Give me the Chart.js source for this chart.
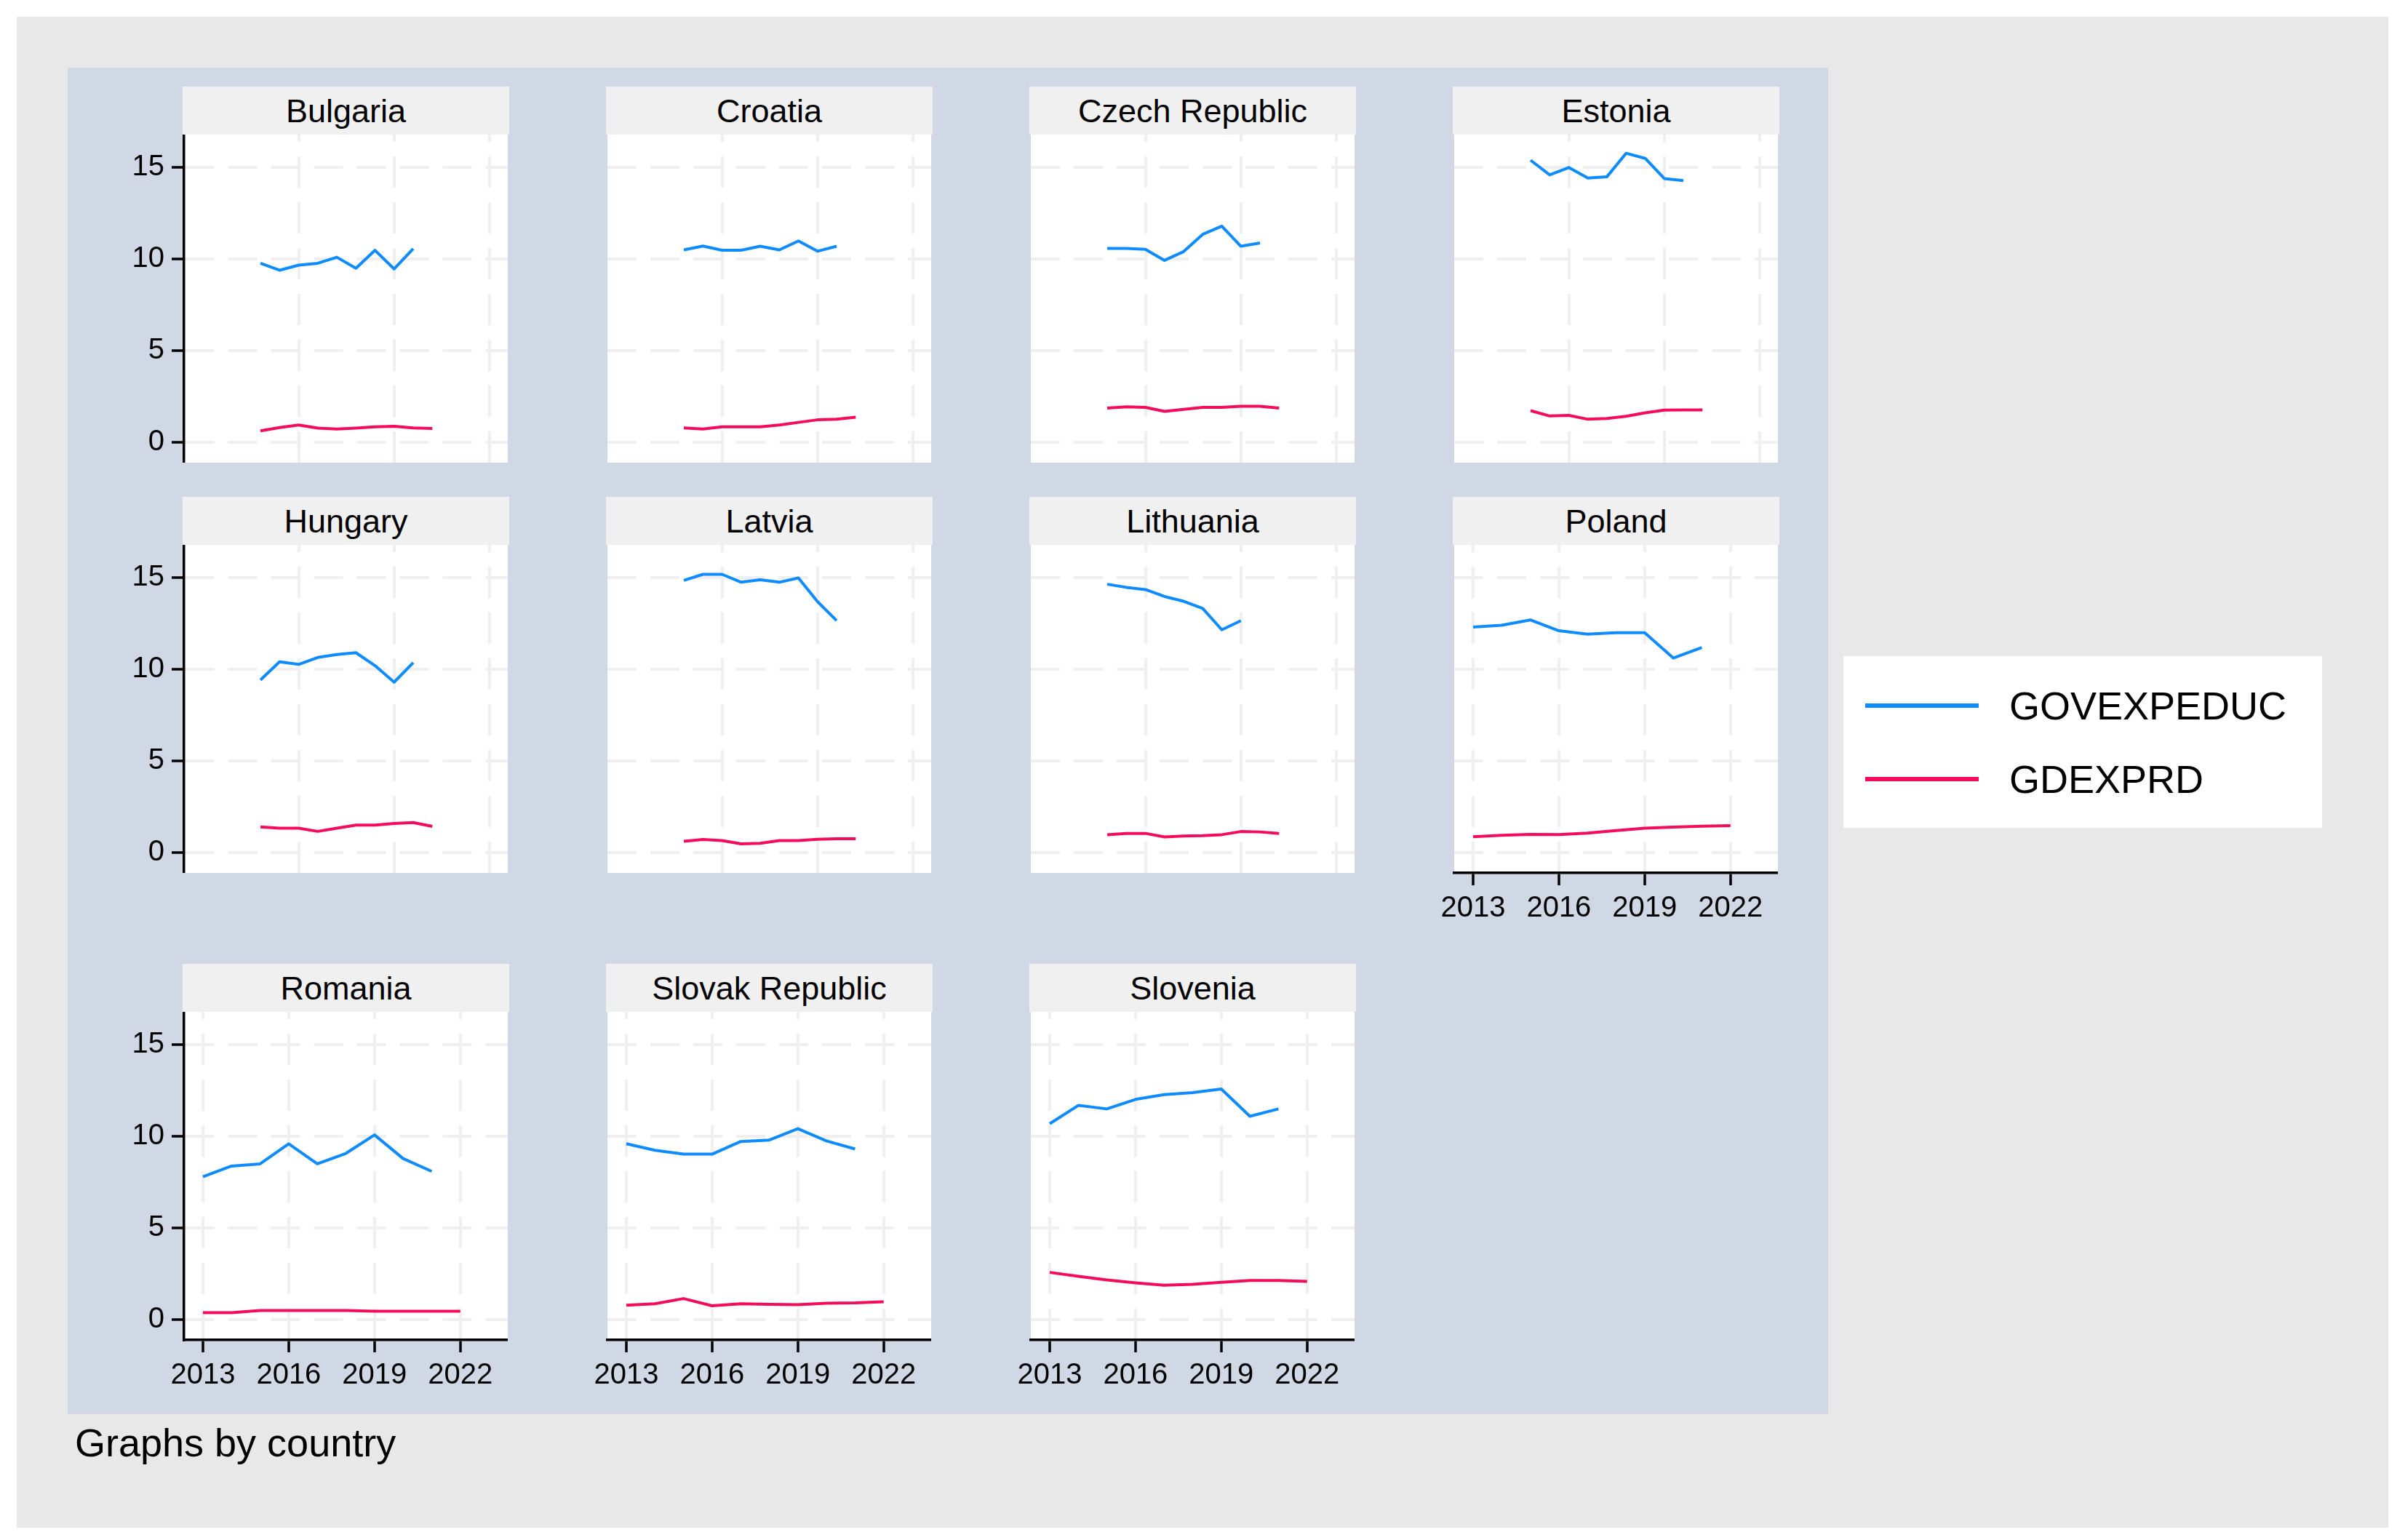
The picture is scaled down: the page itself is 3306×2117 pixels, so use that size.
<!DOCTYPE html>
<html>
<head>
<meta charset="utf-8">
<script src="https://cdn.jsdelivr.net/npm/chart.js@4.4.1/dist/chart.umd.min.js"></script>
<style>
  html, body { margin:0; padding:0; background:#ffffff; width:3306px; height:2117px; overflow:hidden;
    font-family:"Liberation Sans", Arial, sans-serif; }
  #outer { position:absolute; left:23px; top:23px; width:3260px; height:2077px; background:#e8e8e8; }
  #inner { position:absolute; left:93px; top:93px; width:2420px; height:1851px; background:#d1d8e5; }
  .strip { position:absolute; background:#f0f0f0; color:#000; font-size:45px; text-align:center;
    height:66px; line-height:68px; white-space:nowrap; }
  #legend { position:absolute; left:2534px; top:902px; width:658px; height:236px; background:#ffffff; }
  .legline { position:absolute; height:6px; }
  .legtext { position:absolute; font-size:54px; line-height:60px; color:#000; white-space:nowrap; }
  #note { position:absolute; left:103px; top:1953px; font-size:54px; line-height:60px; color:#000; white-space:nowrap; }
  canvas { position:absolute; }
</style>
</head>
<body>
<div id="outer"></div>
<div id="inner"></div>
<div id="legend"></div>
<div id="note">Graphs by country</div>
<script>
// ---------------- data ----------------
const years = [2013, 2014, 2015, 2016, 2017, 2018, 2019, 2020, 2021, 2022];
const countries = ['Bulgaria', 'Croatia', 'Czech Republic', 'Estonia', 'Hungary', 'Latvia',
                   'Lithuania', 'Poland', 'Romania', 'Slovak Republic', 'Slovenia'];
const seriesNames = ['GOVEXPEDUC', 'GDEXPRD'];
const yTickValues = [0, 5, 10, 15];
const xTickLabels = [2013, 2016, 2019, 2022];
const xGridNoAxis = [2015, 2020, 2025];

const govBulgaria  = [9.77, 9.39, 9.67, 9.77, 10.1, 9.5, 10.48, 9.46, 10.57];
const govCroatia   = [10.5, 10.71, 10.48, 10.48, 10.7, 10.5, 10.99, 10.43, 10.7];
const govCzech     = [10.58, 10.58, 10.53, 9.93, 10.41, 11.35, 11.8, 10.7, 10.88];
const govEstonia   = [15.4, 14.6, 15.0, 14.43, 14.5, 15.78, 15.5, 14.4, 14.29];
const govHungary   = [9.42, 10.41, 10.27, 10.65, 10.81, 10.91, 10.2, 9.3, 10.37];
const govLatvia    = [14.86, 15.19, 15.19, 14.76, 14.89, 14.76, 14.99, 13.7, 12.66];
const govLithuania = [14.65, 14.48, 14.36, 13.98, 13.72, 13.33, 12.16, 12.66];
const govPoland    = [12.31, 12.41, 12.7, 12.11, 11.92, 12.0, 12.0, 10.62, 11.19];
const govRomania   = [7.8, 8.38, 8.5, 9.59, 8.5, 9.07, 10.08, 8.79, 8.09];
const govSlovak    = [9.6, 9.24, 9.03, 9.03, 9.72, 9.8, 10.42, 9.75, 9.31];
const govSlovenia  = [10.69, 11.69, 11.5, 12.02, 12.28, 12.39, 12.59, 11.1, 11.5];

const rdBulgaria  = [0.62, 0.8, 0.94, 0.77, 0.72, 0.77, 0.84, 0.87, 0.78, 0.75];
const rdCroatia   = [0.78, 0.72, 0.84, 0.84, 0.84, 0.94, 1.08, 1.22, 1.25, 1.36];
const rdCzech     = [1.86, 1.93, 1.9, 1.68, 1.79, 1.9, 1.9, 1.96, 1.96, 1.86];
const rdEstonia   = [1.72, 1.43, 1.46, 1.25, 1.29, 1.41, 1.6, 1.75, 1.76, 1.76];
const rdHungary   = [1.39, 1.32, 1.32, 1.15, 1.32, 1.49, 1.49, 1.58, 1.63, 1.42];
const rdLatvia    = [0.61, 0.71, 0.65, 0.47, 0.5, 0.65, 0.65, 0.72, 0.75, 0.75];
const rdLithuania = [0.97, 1.04, 1.04, 0.85, 0.9, 0.92, 0.97, 1.14, 1.12, 1.04];
const rdPoland    = [0.86, 0.94, 0.99, 0.98, 1.06, 1.19, 1.32, 1.38, 1.43, 1.46];
const rdRomania   = [0.37, 0.37, 0.49, 0.49, 0.49, 0.49, 0.45, 0.45, 0.45, 0.45];
const rdSlovak    = [0.78, 0.86, 1.14, 0.75, 0.86, 0.83, 0.81, 0.89, 0.91, 0.97];
const rdSlovenia  = [2.57, 2.36, 2.16, 2.0, 1.87, 1.92, 2.03, 2.13, 2.13, 2.08];

const govSeries = [govBulgaria, govCroatia, govCzech, govEstonia, govHungary, govLatvia,
                   govLithuania, govPoland, govRomania, govSlovak, govSlovenia];
const rdSeries  = [rdBulgaria, rdCroatia, rdCzech, rdEstonia, rdHungary, rdLatvia,
                   rdLithuania, rdPoland, rdRomania, rdSlovak, rdSlovenia];

// ---------------- style / layout ----------------
const FONT = '"Liberation Sans", Arial, sans-serif';
const BLUE = '#0d8bff';
const RED = '#f40b5c';
const COLORS = [BLUE, RED];
const GRID = '#efefef';
const STRIP_LEFT = [251, 833, 1415, 1997];
const STRIP_TOP = [119, 683, 1325];
const STRIP_W = 449, STRIP_H = 66;
const PLOT_W = 445, PLOT_H = 451;

const whiteArea = {
  id: 'whiteArea',
  beforeDraw(chart) {
    const a = chart.chartArea, ctx = chart.ctx;
    ctx.save();
    ctx.fillStyle = '#ffffff';
    ctx.fillRect(a.left, a.top, a.right - a.left, a.bottom - a.top);
    ctx.restore();
  }
};

function toPoints(arr) {
  return years.map((yr, k) => ({ x: yr, y: arr[k] })).filter(p => p.y !== undefined && p.y !== null);
}

countries.forEach((name, i) => {
  const row = Math.floor(i / 4), col = i % 4;
  const sl = STRIP_LEFT[col], st = STRIP_TOP[row];
  const strip = document.createElement('div');
  strip.className = 'strip';
  strip.style.left = sl + 'px';
  strip.style.top = st + 'px';
  strip.style.width = STRIP_W + 'px';
  strip.textContent = name;
  document.body.appendChild(strip);

  const pl = sl + 2, pt = st + STRIP_H;
  const showX = i >= 7;
  const showY = col === 0;
  const L = 130, B = showX ? 110 : 0;

  const canvas = document.createElement('canvas');
  canvas.width = PLOT_W + L;
  canvas.height = PLOT_H + B;
  canvas.style.left = (pl - L) + 'px';
  canvas.style.top = pt + 'px';
  canvas.style.width = (PLOT_W + L) + 'px';
  canvas.style.height = (PLOT_H + B) + 'px';
  document.body.appendChild(canvas);

  new Chart(canvas, {
    type: 'line',
    data: {
      datasets: [
        { label: seriesNames[0], data: toPoints(govSeries[i]), borderColor: BLUE, borderWidth: 4,
          pointRadius: 0, tension: 0, fill: false, borderJoinStyle: 'round' },
        { label: seriesNames[1], data: toPoints(rdSeries[i]), borderColor: RED, borderWidth: 4,
          pointRadius: 0, tension: 0, fill: false, borderJoinStyle: 'round' }
      ]
    },
    options: {
      responsive: false,
      animation: false,
      devicePixelRatio: 1,
      layout: { padding: 0 },
      events: [],
      plugins: { legend: { display: false }, tooltip: { enabled: false }, title: { display: false } },
      scales: {
        x: {
          type: 'linear',
          min: showX ? 2012.34 : 2009.0,
          max: showX ? 2023.66 : 2025.95,
          afterBuildTicks: s => { s.ticks = (showX ? xTickLabels : xGridNoAxis).map(v => ({ value: v })); },
          afterFit: s => { s.height = B; s.paddingLeft = 0; s.paddingRight = 0; s.paddingTop = 0; s.paddingBottom = 0; },
          ticks: { display: showX, color: '#000', font: { family: FONT, size: 40 }, padding: 8,
                   maxRotation: 0, minRotation: 0, autoSkip: false, callback: v => String(v) },
          grid: { color: GRID, lineWidth: 4, drawTicks: showX, tickLength: 17, tickColor: '#000', tickWidth: 3.5 },
          border: { display: showX, color: '#000', width: 3.5, dash: [43, 20], dashOffset: 33 }
        },
        y: {
          type: 'linear',
          min: -1.12,
          max: 16.8,
          afterBuildTicks: s => { s.ticks = yTickValues.map(v => ({ value: v })); },
          afterFit: s => { s.width = L; s.paddingLeft = 0; s.paddingRight = 0; s.paddingTop = 0; s.paddingBottom = 0; },
          ticks: { display: showY, color: '#000', font: { family: FONT, size: 40 }, padding: 10,
                   autoSkip: false, callback: v => String(v) },
          grid: { color: GRID, lineWidth: 4, drawTicks: showY, tickLength: 17, tickColor: '#000', tickWidth: 3.5 },
          border: { display: showY, color: '#000', width: 3.5, dash: [40, 19], dashOffset: 0 }
        }
      }
    },
    plugins: [whiteArea]
  });
});

// ---------------- legend ----------------
const legend = document.getElementById('legend');
seriesNames.forEach((nm, k) => {
  const cy = 68 + k * 101;
  const ln = document.createElement('div');
  ln.className = 'legline';
  ln.style.left = '30px';
  ln.style.width = '156px';
  ln.style.top = (cy - 3) + 'px';
  ln.style.background = COLORS[k];
  legend.appendChild(ln);
  const tx = document.createElement('div');
  tx.className = 'legtext';
  tx.style.left = '228px';
  tx.style.top = (cy - 30) + 'px';
  tx.textContent = nm;
  legend.appendChild(tx);
});
</script>
</body>
</html>
